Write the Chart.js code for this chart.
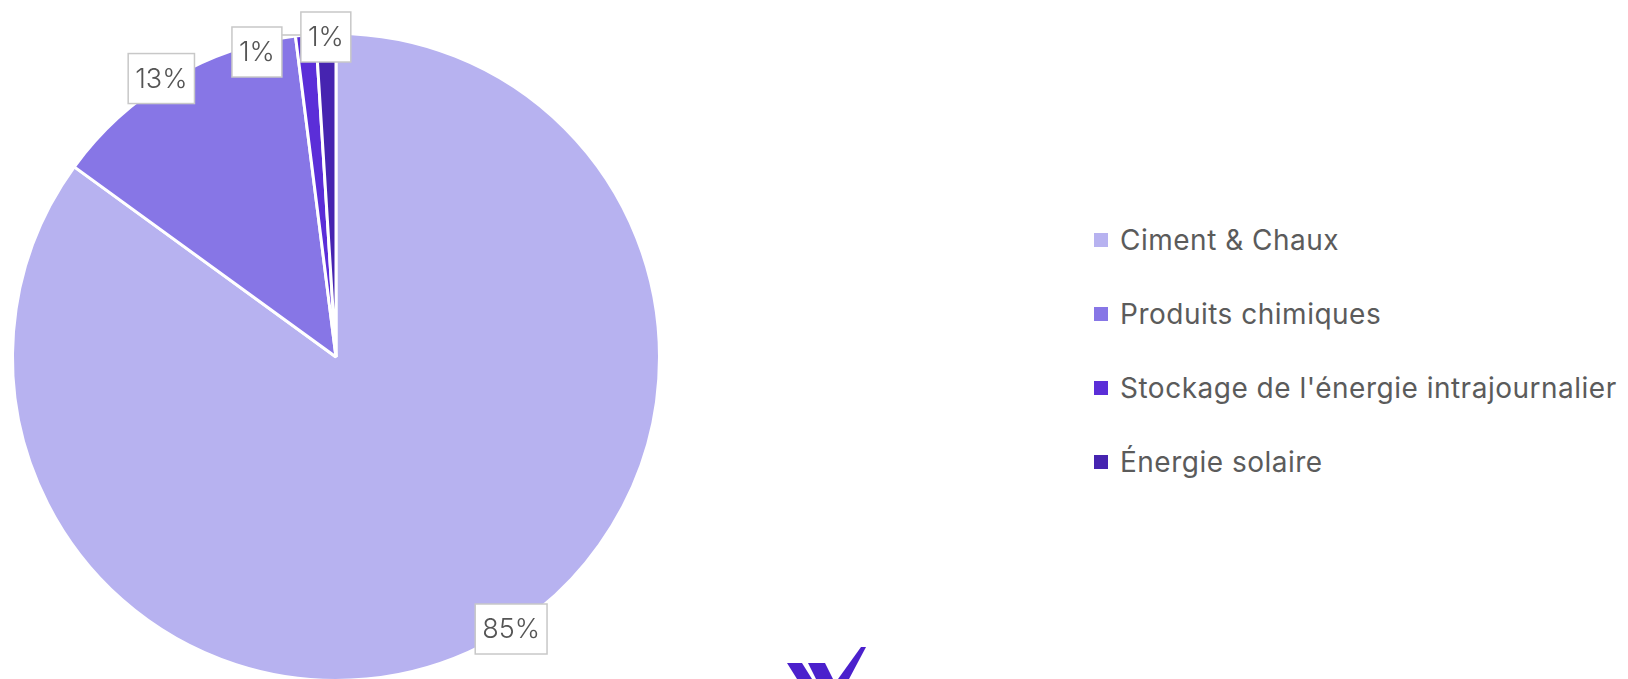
<!DOCTYPE html>
<html>
<head>
<meta charset="utf-8">
<script src="https://cdn.jsdelivr.net/npm/chart.js@4"></script>
<style>
    html, body { margin: 0; padding: 0; background: #fff; overflow: hidden; }
    #wrap { position: absolute; left: 0; top: 0; width: 672px; height: 714px; }
    #legend {
        position: absolute; left: 1094px; top: 203px; margin: 0; padding: 0; list-style: none;
        font-family: Inter, "Open Sans", sans-serif; font-size: 28px; letter-spacing: 0.5px; color: #5b5b5b;
    }
    #legend li { height: 74px; display: flex; align-items: center; white-space: nowrap; }
    #legend li span { display: inline-block; width: 14px; height: 14px; margin-right: 12px; }
    #logo { position: absolute; left: 770px; top: 640px; }
</style>
</head>
<body>
<div id="wrap"><canvas id="myChart"></canvas></div>
<ul id="legend"></ul>
<svg id="logo" width="110" height="39" viewBox="0 0 110 39">
    <polygon points="17,23 32,23 42,39 27,39" fill="#4b20cc"/>
    <polygon points="38,23 55,23 63,39 46,39" fill="#4b20cc"/>
    <polygon points="68,39 91,7 96,7 79,39" fill="#4b20cc"/>
</svg>
<script>
const categories = ['Ciment & Chaux', 'Produits chimiques', "Stockage de l'énergie intrajournalier", 'Énergie solaire'];
const shares = [85, 13, 1, 1];
const sliceColors = ['#b7b2f0', '#8776e6', '#5b2ed8', '#4624b0'];

// percentage boxes sitting on the pie edge
const boxLabels = {
    id: 'boxLabels',
    afterDatasetsDraw(chart) {
        const ctx = chart.ctx;
        const meta = chart.getDatasetMeta(0);
        const total = shares.reduce((a, b) => a + b, 0);
        ctx.save();
        ctx.font = '300 27px Inter, "Open Sans", sans-serif';

        const boxes = meta.data.map((arc, i) => {
            const p = arc.getProps(['x', 'y', 'startAngle', 'endAngle', 'outerRadius'], true);
            const mid = (p.startAngle + p.endAngle) / 2;
            const ax = p.x + Math.cos(mid) * p.outerRadius;
            const ay = p.y + Math.sin(mid) * p.outerRadius;
            const text = Math.round(shares[i] / total * 100) + '%';
            const w = ctx.measureText(text).width + 14;
            const h = 50;
            let cx = ax, cy = ay;
            const maxY = window.innerHeight - 25 - h / 2;
            if (cy > maxY) {
                // slide along the circle to stay visible
                cy = maxY;
                const dy = cy - p.y;
                cx = p.x + Math.sign(Math.cos(mid)) * Math.sqrt(p.outerRadius ** 2 - dy * dy);
            }
            const minY = 12 + h / 2;
            if (cy < minY) cy = minY;
            // left side labels sit a bit further out
            if (Math.cos(mid) < -0.2) cx -= 10;
            return { text, w, h, cx, cy, ax, ay };
        });

        // push overlapping labels to the left
        for (let i = boxes.length - 2; i >= 0; i--) {
            const a = boxes[i], b = boxes[i + 1];
            if (Math.abs(a.cx - b.cx) < (a.w + b.w) / 2 + 4 && Math.abs(a.cy - b.cy) < (a.h + b.h) / 2) {
                a.cx = b.cx - b.w / 2 - 19 - a.w / 2;
                a.cy = b.cy + 15;
            }
        }

        boxes.forEach(b => {
            const left = b.cx - b.w / 2, top = b.cy - b.h / 2;
            const inside = b.ax >= left && b.ax <= left + b.w && b.ay >= top && b.ay <= top + b.h;
            if (!inside) {
                const ex = Math.min(Math.max(b.ax, left), left + b.w);
                const ey = Math.min(Math.max(b.ay, top + 8), top + b.h);
                ctx.beginPath();
                ctx.moveTo(ex, ey);
                ctx.lineTo(b.ax, b.ay);
                ctx.strokeStyle = '#c4c4c4';
                ctx.lineWidth = 1.5;
                ctx.stroke();
            }
            ctx.fillStyle = '#fff';
            ctx.fillRect(left, top, b.w, b.h);
            ctx.strokeStyle = '#c8c8c8';
            ctx.lineWidth = 1.5;
            ctx.strokeRect(left, top, b.w, b.h);
            ctx.fillStyle = '#555';
            ctx.textAlign = 'center';
            ctx.textBaseline = 'middle';
            ctx.fillText(b.text, b.cx, b.cy + 1);
        });
        ctx.restore();
    }
};

const ctx = document.getElementById('myChart');

const chart = new Chart(ctx, {
    type: 'pie',
    data: {
        labels: categories,
        datasets: [{
            data: shares,
            backgroundColor: sliceColors,
            borderColor: '#fff',
            borderWidth: 3
        }]
    },
    options: {
        responsive: true,
        maintainAspectRatio: false,
        animation: false,
        layout: {
            padding: { top: 32, bottom: 32, left: 11, right: 11 }
        },
        plugins: {
            legend: { display: false },
            tooltip: { enabled: false }
        }
    },
    plugins: [boxLabels]
});

// html legend next to the pie
const legendList = document.getElementById('legend');
chart.options.plugins.legend.labels.generateLabels(chart).forEach(item => {
    const li = document.createElement('li');
    const box = document.createElement('span');
    box.style.background = item.fillStyle;
    li.appendChild(box);
    li.appendChild(document.createTextNode(item.text));
    legendList.appendChild(li);
});
</script>
</body>
</html>
